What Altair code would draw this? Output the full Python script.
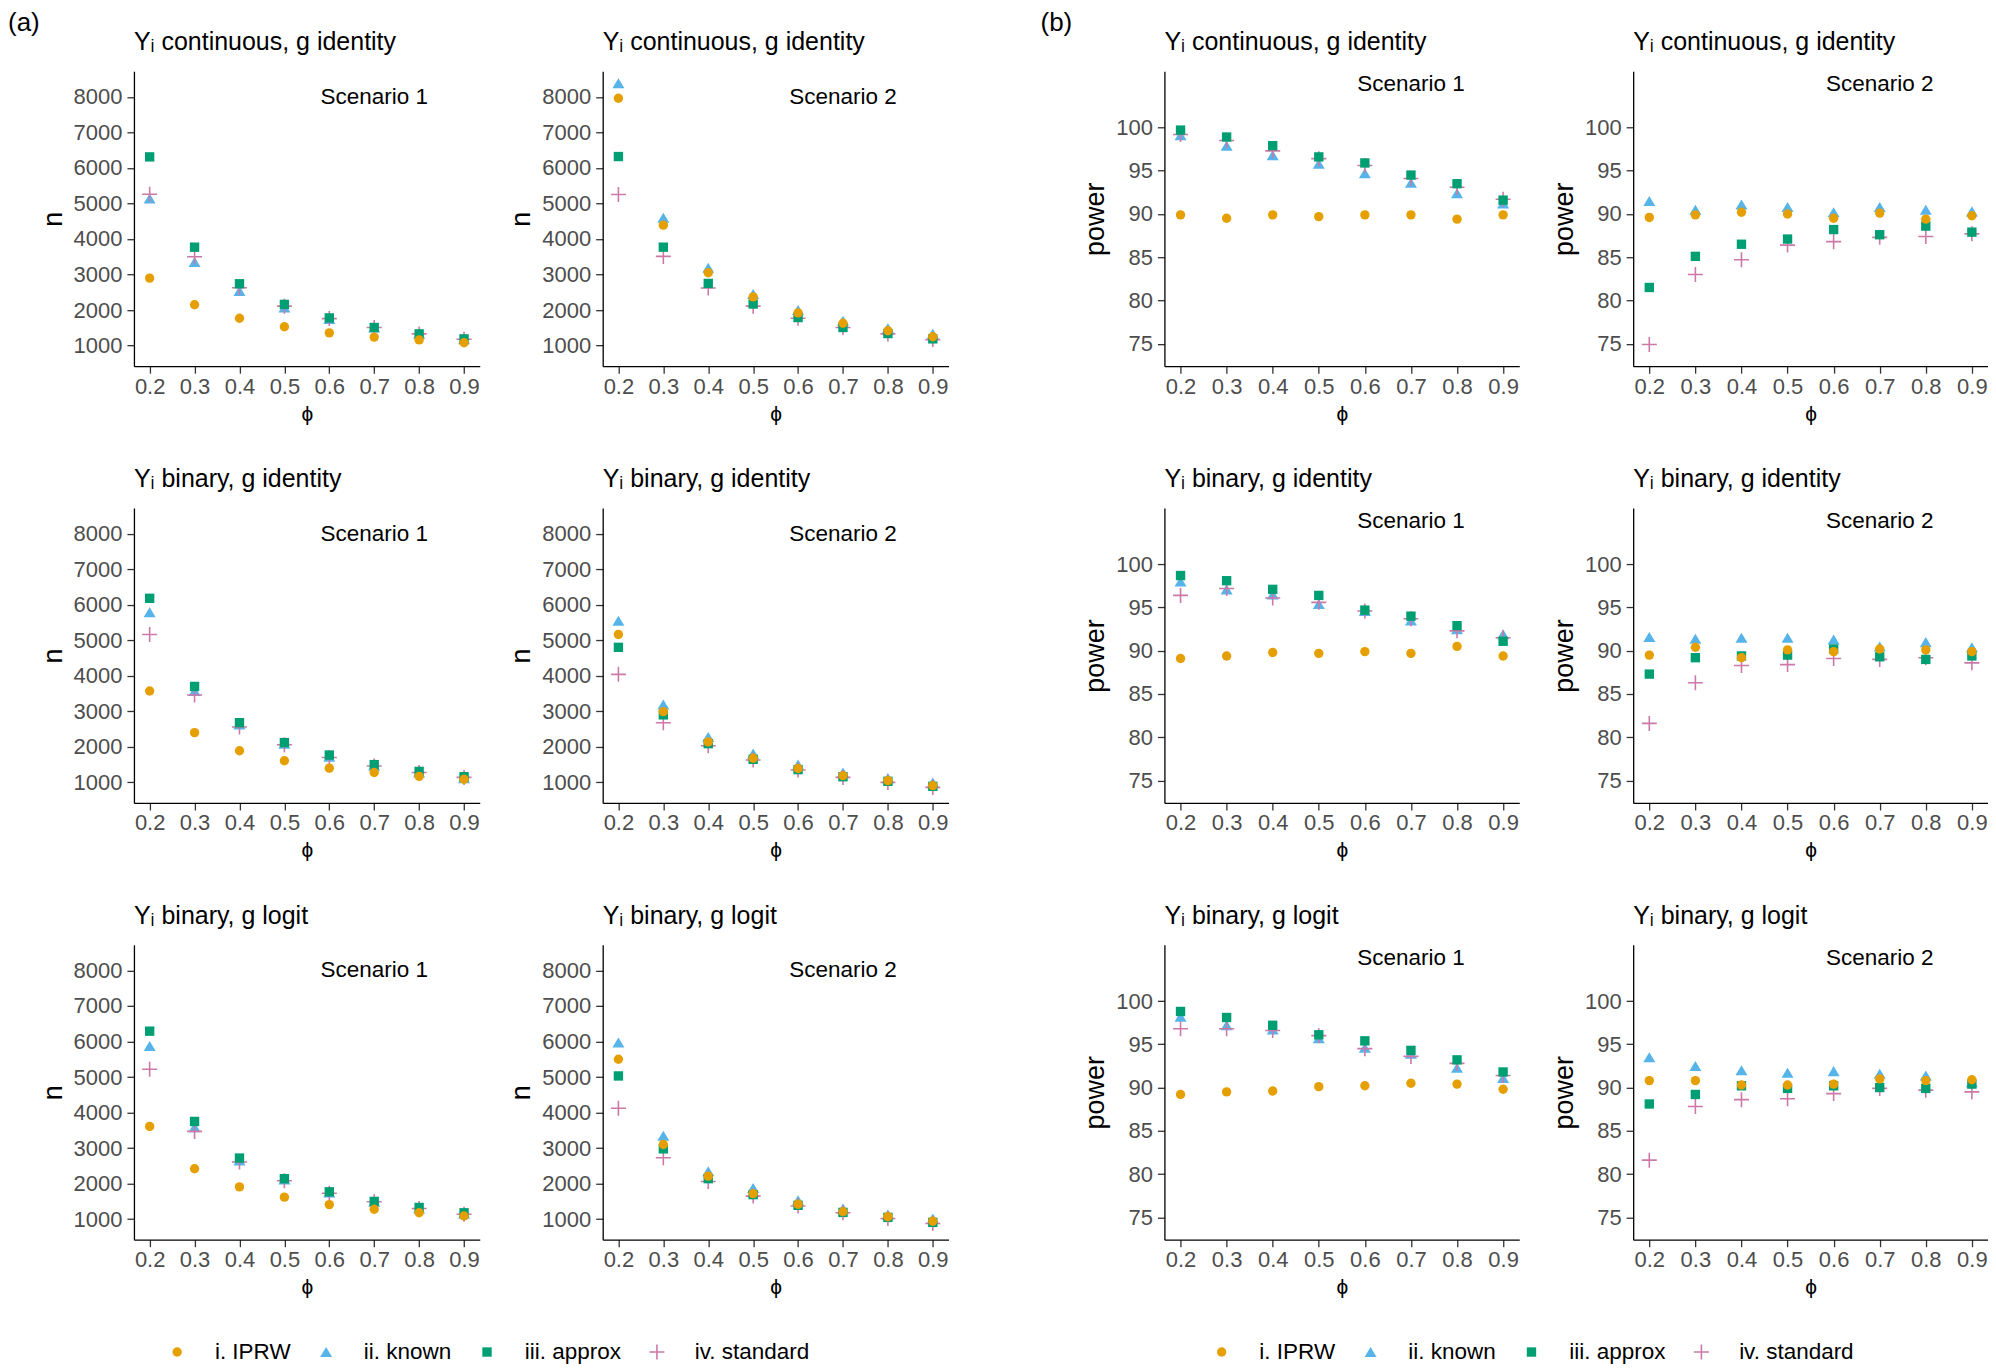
import altair as alt
import pandas as pd

FONT = "Liberation Sans"

PHI = [0.2, 0.3, 0.4, 0.5, 0.6, 0.7, 0.8, 0.9]
METHODS = ["i. IPRW", "ii. known", "iii. approx", "iv. standard"]
COLORS = ["#E69F00", "#56B4E9", "#009E73", "#CC79A7"]
STROKES = ["transparent", "transparent", "transparent", "#CC79A7"]
SHAPES = ["circle", "M0,-1.07L1.28,1.07L-1.28,1.07Z", "square", "M-1.6,0L1.6,0M0,-1.6L0,1.6"]
DRAW_ORDER = ["ii. known", "iv. standard", "iii. approx", "i. IPRW"]

ROW_TITLES = ["Y\u1d62 continuous, g identity", "Y\u1d62 binary, g identity", "Y\u1d62 binary, g logit"]
SCENARIOS = ["Scenario 1", "Scenario 2"]
GROUP_LABELS = ["(a)", "(b)"]

N_TICKS = [1000, 2000, 3000, 4000, 5000, 6000, 7000, 8000]
POWER_TICKS = [75, 80, 85, 90, 95, 100]

# ---------------- (a) required sample size n ----------------
N_CONT_S1_IPRW = [2900, 2150, 1770, 1530, 1360, 1240, 1160, 1080]
N_CONT_S1_KNOWN = [5140, 3350, 2540, 2070, 1750, 1510, 1330, 1180]
N_CONT_S1_APPROX = [6310, 3770, 2740, 2160, 1780, 1510, 1330, 1190]
N_CONT_S1_STANDARD = [5260, 3500, 2630, 2110, 1760, 1510, 1330, 1180]

N_CONT_S2_IPRW = [7960, 4390, 3050, 2370, 1920, 1630, 1420, 1250]
N_CONT_S2_KNOWN = [8380, 4600, 3190, 2450, 2000, 1700, 1490, 1330]
N_CONT_S2_APPROX = [6320, 3770, 2750, 2170, 1790, 1510, 1340, 1190]
N_CONT_S2_STANDARD = [5250, 3510, 2620, 2110, 1770, 1510, 1330, 1170]

N_BINID_S1_IPRW = [3570, 2400, 1890, 1610, 1400, 1280, 1170, 1090]
N_BINID_S1_KNOWN = [5790, 3570, 2630, 2090, 1720, 1470, 1280, 1120]
N_BINID_S1_APPROX = [6180, 3700, 2680, 2120, 1770, 1500, 1310, 1160]
N_BINID_S1_STANDARD = [5160, 3460, 2560, 2060, 1700, 1460, 1280, 1140]

N_BINID_S2_IPRW = [5160, 2990, 2140, 1680, 1390, 1190, 1050, 910]
N_BINID_S2_KNOWN = [5550, 3190, 2280, 1810, 1500, 1280, 1120, 1000]
N_BINID_S2_APPROX = [4800, 2900, 2090, 1650, 1360, 1160, 1030, 890]
N_BINID_S2_STANDARD = [4040, 2680, 2030, 1630, 1350, 1140, 1000, 860]

N_LOGIT_S1_IPRW = [3610, 2420, 1910, 1620, 1410, 1280, 1180, 1090]
N_LOGIT_S1_KNOWN = [5870, 3590, 2650, 2120, 1750, 1490, 1300, 1150]
N_LOGIT_S1_APPROX = [6290, 3750, 2720, 2140, 1770, 1500, 1330, 1180]
N_LOGIT_S1_STANDARD = [5220, 3470, 2610, 2080, 1730, 1490, 1300, 1140]

N_LOGIT_S2_IPRW = [5500, 3100, 2210, 1720, 1420, 1210, 1070, 940]
N_LOGIT_S2_KNOWN = [5970, 3350, 2350, 1880, 1530, 1300, 1130, 1020]
N_LOGIT_S2_APPROX = [5030, 2980, 2140, 1690, 1390, 1190, 1050, 910]
N_LOGIT_S2_STANDARD = [4120, 2730, 2060, 1650, 1370, 1180, 1020, 880]

# ---------------- (b) power (%) ----------------
P_CONT_S1_IPRW = [89.9, 89.5, 89.9, 89.7, 89.9, 89.9, 89.4, 89.9]
P_CONT_S1_KNOWN = [99.1, 97.9, 96.8, 95.8, 94.7, 93.6, 92.4, 91.2]
P_CONT_S1_APPROX = [99.7, 98.9, 97.9, 96.6, 95.9, 94.5, 93.5, 91.6]
P_CONT_S1_STANDARD = [99.2, 98.5, 97.3, 96.4, 95.6, 94.1, 93.1, 91.7]

P_CONT_S2_IPRW = [89.6, 89.9, 90.2, 90.0, 89.5, 90.1, 89.4, 89.8]
P_CONT_S2_KNOWN = [91.5, 90.5, 91.1, 90.8, 90.2, 90.8, 90.5, 90.3]
P_CONT_S2_APPROX = [81.5, 85.1, 86.5, 87.1, 88.2, 87.6, 88.6, 87.9]
P_CONT_S2_STANDARD = [74.9, 83.0, 84.7, 86.4, 86.8, 87.3, 87.4, 87.7]

P_BINID_S1_IPRW = [89.1, 89.4, 89.8, 89.7, 89.9, 89.7, 90.5, 89.4]
P_BINID_S1_KNOWN = [98.0, 97.1, 96.5, 95.4, 94.6, 93.5, 92.5, 91.9]
P_BINID_S1_APPROX = [98.7, 98.1, 97.1, 96.4, 94.7, 94.0, 92.9, 91.1]
P_BINID_S1_STANDARD = [96.4, 97.2, 96.1, 95.6, 94.6, 93.7, 92.3, 91.5]

P_BINID_S2_IPRW = [89.5, 90.4, 89.2, 90.1, 89.9, 90.2, 90.1, 89.9]
P_BINID_S2_KNOWN = [91.6, 91.4, 91.5, 91.5, 91.3, 90.5, 91.0, 90.4]
P_BINID_S2_APPROX = [87.3, 89.2, 89.4, 89.5, 90.2, 89.3, 89.0, 89.4]
P_BINID_S2_STANDARD = [81.6, 86.3, 88.3, 88.4, 89.1, 89.0, 89.2, 88.6]

P_LOGIT_S1_IPRW = [89.2, 89.5, 89.6, 90.1, 90.2, 90.5, 90.4, 89.8]
P_LOGIT_S1_KNOWN = [98.2, 97.2, 96.7, 95.7, 94.6, 93.9, 92.3, 91.1]
P_LOGIT_S1_APPROX = [98.8, 98.1, 97.2, 96.1, 95.4, 94.3, 93.2, 91.8]
P_LOGIT_S1_STANDARD = [96.8, 96.8, 96.6, 96.0, 94.5, 93.6, 92.8, 91.4]

P_LOGIT_S2_IPRW = [90.8, 90.8, 90.3, 90.3, 90.4, 91.0, 90.8, 90.9]
P_LOGIT_S2_KNOWN = [93.5, 92.5, 92.0, 91.7, 91.9, 91.6, 91.4, 90.6]
P_LOGIT_S2_APPROX = [88.1, 89.2, 90.2, 89.9, 90.2, 90.0, 89.9, 90.4]
P_LOGIT_S2_STANDARD = [81.6, 87.8, 88.6, 88.7, 89.3, 89.9, 89.7, 89.5]

N_PANELS = [
    [(N_CONT_S1_IPRW, N_CONT_S1_KNOWN, N_CONT_S1_APPROX, N_CONT_S1_STANDARD),
     (N_CONT_S2_IPRW, N_CONT_S2_KNOWN, N_CONT_S2_APPROX, N_CONT_S2_STANDARD)],
    [(N_BINID_S1_IPRW, N_BINID_S1_KNOWN, N_BINID_S1_APPROX, N_BINID_S1_STANDARD),
     (N_BINID_S2_IPRW, N_BINID_S2_KNOWN, N_BINID_S2_APPROX, N_BINID_S2_STANDARD)],
    [(N_LOGIT_S1_IPRW, N_LOGIT_S1_KNOWN, N_LOGIT_S1_APPROX, N_LOGIT_S1_STANDARD),
     (N_LOGIT_S2_IPRW, N_LOGIT_S2_KNOWN, N_LOGIT_S2_APPROX, N_LOGIT_S2_STANDARD)],
]
P_PANELS = [
    [(P_CONT_S1_IPRW, P_CONT_S1_KNOWN, P_CONT_S1_APPROX, P_CONT_S1_STANDARD),
     (P_CONT_S2_IPRW, P_CONT_S2_KNOWN, P_CONT_S2_APPROX, P_CONT_S2_STANDARD)],
    [(P_BINID_S1_IPRW, P_BINID_S1_KNOWN, P_BINID_S1_APPROX, P_BINID_S1_STANDARD),
     (P_BINID_S2_IPRW, P_BINID_S2_KNOWN, P_BINID_S2_APPROX, P_BINID_S2_STANDARD)],
    [(P_LOGIT_S1_IPRW, P_LOGIT_S1_KNOWN, P_LOGIT_S1_APPROX, P_LOGIT_S1_STANDARD),
     (P_LOGIT_S2_IPRW, P_LOGIT_S2_KNOWN, P_LOGIT_S2_APPROX, P_LOGIT_S2_STANDARD)],
]

X_DOMAIN = [0.165, 0.935]
N_DOMAIN = [422, 8718]
P_DOMAIN = [72.4, 106.5]
H = 295
WA = 346
WB = 355
ROW_GAP = 43


def to_frame(series4):
    series = dict(zip(METHODS, series4))
    rows = []
    for m in DRAW_ORDER:
        for p, v in zip(PHI, series[m]):
            rows.append({"phi": p, "value": v, "method": m})
    return pd.DataFrame(rows)


def make_legend(lx, ly):
    return alt.Legend(
        title=None, orient="none", legendX=lx, legendY=ly,
        direction="horizontal", columns=4, columnPadding=24,
        labelFont=FONT, labelFontSize=22.5, labelColor="black", labelOffset=26.5,
        symbolSize=88, symbolStrokeWidth=1.6,
    )


def panel(series4, title, scenario, kind, legend):
    if kind == "n":
        ydom, yticks, ytitle, w, scen_y = N_DOMAIN, N_TICKS, "n", WA, 8000
    else:
        ydom, yticks, ytitle, w, scen_y = P_DOMAIN, POWER_TICKS, "power", WB, 105
    xenc = alt.X("phi:Q", scale=alt.Scale(domain=X_DOMAIN, nice=False, zero=False),
                 axis=alt.Axis(values=PHI, format=".1f", title="\u03d5", titleFontSize=21,
                               labelPadding=3))
    yenc = alt.Y("value:Q", scale=alt.Scale(domain=ydom, nice=False, zero=False),
                 axis=alt.Axis(values=yticks, format="d", title=ytitle))
    pts = alt.Chart(to_frame(series4)).mark_point(
        filled=True, opacity=1, size=88, strokeWidth=1.6
    ).encode(
        x=xenc, y=yenc,
        fill=alt.Fill("method:N", scale=alt.Scale(domain=METHODS, range=COLORS), legend=legend),
        stroke=alt.Stroke("method:N", scale=alt.Scale(domain=METHODS, range=STROKES), legend=legend),
        shape=alt.Shape("method:N", scale=alt.Scale(domain=METHODS, range=SHAPES), legend=legend),
    )
    note_df = pd.DataFrame({"phi": [0.7], "value": [scen_y], "label": [scenario]})
    note = alt.Chart(note_df).mark_text(font=FONT, fontSize=22.5, color="black").encode(
        x=xenc, y=yenc, text="label:N"
    )
    return alt.layer(
        pts, note,
        title=alt.Title(title, anchor="start", frame="group", fontSize=25, font=FONT,
                        fontWeight="normal", color="black", offset=16),
    ).properties(width=w, height=H)


def group(panels, kind, label, legend, label_dx, col_gap):
    rows = []
    for r in range(3):
        p1 = panel(panels[r][0], ROW_TITLES[r], SCENARIOS[0], kind, legend)
        p2 = panel(panels[r][1], ROW_TITLES[r], SCENARIOS[1], kind, legend)
        rows.append(alt.hconcat(p1, p2, spacing=col_gap))
    return alt.vconcat(
        *rows, spacing=ROW_GAP,
        title=alt.Title(label, anchor="start", frame="group", dx=label_dx, fontSize=26,
                        font=FONT, fontWeight="normal", color="black", offset=-6),
    )


groupA = group(N_PANELS, "n", GROUP_LABELS[0], make_legend(32, 1270), -126, 28)
groupB = group(P_PANELS, "p", GROUP_LABELS[1], make_legend(46, 1270), -124, 31)

chart = alt.hconcat(groupA, groupB, spacing=92).resolve_scale(
    fill="independent", stroke="independent", shape="independent"
).properties(
    padding={"left": 0, "right": 0, "top": 2, "bottom": 0}
).configure_view(strokeWidth=0).configure_axis(
    domainColor="black", domainWidth=1.3, tickColor="#333333", tickWidth=1.3, tickSize=7,
    labelFont=FONT, labelFontSize=22, labelColor="#4D4D4D", labelPadding=5, labelFlush=False,
    titleFont=FONT, titleFontSize=27, titleFontWeight="normal", titleColor="black",
    titlePadding=6, grid=False,
).configure_title(font=FONT, fontWeight="normal", color="black")

chart.save("out.html", embed_options={"renderer": "svg", "actions": False})
